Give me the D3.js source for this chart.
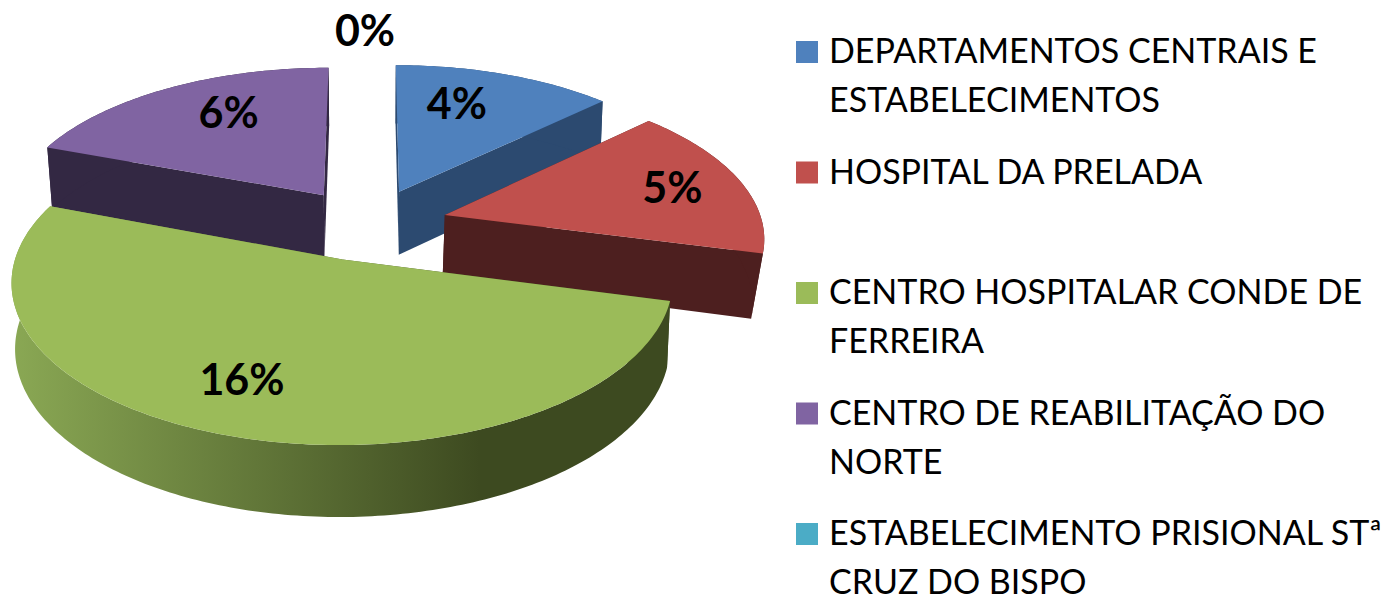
<!DOCTYPE html>
<html><head><meta charset="utf-8">
<style>html,body{margin:0;background:#fff}svg{display:block}text{font-family:Lato,"Open Sans",sans-serif}</style>
<script src="https://cdn.jsdelivr.net/npm/d3@7"></script></head><body>
<svg id="c" width="1392" height="595"></svg>
<script>
const categories = ["DEPARTAMENTOS CENTRAIS E|ESTABELECIMENTOS","HOSPITAL DA PRELADA","CENTRO HOSPITALAR CONDE DE|FERREIRA","CENTRO DE REABILITAÇÃO DO|NORTE","ESTABELECIMENTO PRISIONAL STª|CRUZ DO BISPO"];
const values = [4,5,16,6,0];
const valueLabels = ["4%","5%","16%","6%","0%"];
const topColors = ["#4f81bd","#c0504d","#9bbb59","#8064a2","#4bacc6"];
const sideColors = ["#2c4a70","#4d1f1f","url(#greenSide)","#332843","#2a6070"];

const cx=370, cy=224, R=325, tilt=0.465, persp=0.131, xScale=0.978, explode=77.5, depth=64, depthPersp=0.65;
// per-slice layout tweaks: horizontal nudge, lower-rim narrowing, label radial fraction, label angular nudge (deg)
const xNudge=[0,2,-4,-4,-5], shrink=[0.99,0.97,0.99,0.985,1];
const labelFrac=[0.70,0.77,0.73,0.71,1.30], labelShift=[-5.7,0,4.5,6,0];
const drawOrder=[3,0,1,2];

const svg=d3.select("#c");
const grad=svg.append("defs").append("linearGradient").attr("id","greenSide")
  .attr("gradientUnits","userSpaceOnUse").attr("x1",12).attr("x2",480).attr("y1",0).attr("y2",0);
grad.append("stop").attr("offset",0).attr("stop-color","#8aa854");
grad.append("stop").attr("offset",1).attr("stop-color","#3d4a20");

const arcs=d3.pie().value(d=>d).sort(null)(values);
function project(arc,theta,r,low){
  const mid=(arc.startAngle+arc.endAngle)/2;
  const X=explode*Math.sin(mid)+r*Math.sin(theta), Z=explode*Math.cos(mid)+r*Math.cos(theta);
  const s=1/(1+persp*Z/R);
  const k=low?shrink[arc.index]:1;
  return [cx+xNudge[arc.index]+k*xScale*s*X, cy-s*tilt*Z+(low?depth*(1+depthPersp*(s-1)):0)];
}
const line=d3.line();
function rimAngles(a){
  const n=Math.max(2,Math.ceil((a.endAngle-a.startAngle)*60));
  return d3.range(n+1).map(i=>a.startAngle+(a.endAngle-a.startAngle)*i/n);
}
const g=svg.append("g");
drawOrder.forEach(i=>{
  const a=arcs[i], th=rimAngles(a), sl=g.append("g");
  [a.startAngle,a.endAngle].forEach(t=>{
    sl.append("path").attr("fill",sideColors[i]).attr("d",line([
      project(a,t,0,false),project(a,t,R,false),project(a,t,R,true),project(a,t,0,true)])+"Z");
  });
  sl.append("path").attr("fill",sideColors[i]).attr("d",
    line(th.map(t=>project(a,t,R,false)).concat(th.slice().reverse().map(t=>project(a,t,R,true))))+"Z");
  sl.append("path").attr("fill",topColors[i]).attr("d",
    line([project(a,a.startAngle,0,false)].concat(th.map(t=>project(a,t,R,false))))+"Z");
});
arcs.forEach((a,i)=>{
  const mid=(a.startAngle+a.endAngle)/2+labelShift[i]*Math.PI/180;
  const p=project(a,mid,R*labelFrac[i],false);
  svg.append("text").attr("x",p[0]).attr("y",p[1]).attr("dy","0.36em").attr("text-anchor","middle")
    .attr("font-size",43).attr("font-weight",700).attr("fill","#000").text(valueLabels[i]);
});
const rowY=d3.scaleLinear().domain([0,4]).range([51,533]);
const lg=svg.append("g").selectAll("g").data(categories).join("g")
  .attr("transform",(d,i)=>`translate(0,${rowY(i)})`);
lg.append("rect").attr("x",796).attr("y",-10).attr("width",22).attr("height",22).attr("fill",(d,i)=>topColors[i]);
lg.each(function(d){
  d.split("|").forEach((t,j)=>{
    d3.select(this).append("text").attr("x",829).attr("y",12+j*49).attr("font-size",34).attr("fill","#000").text(t);
  });
});
</script></body></html>
